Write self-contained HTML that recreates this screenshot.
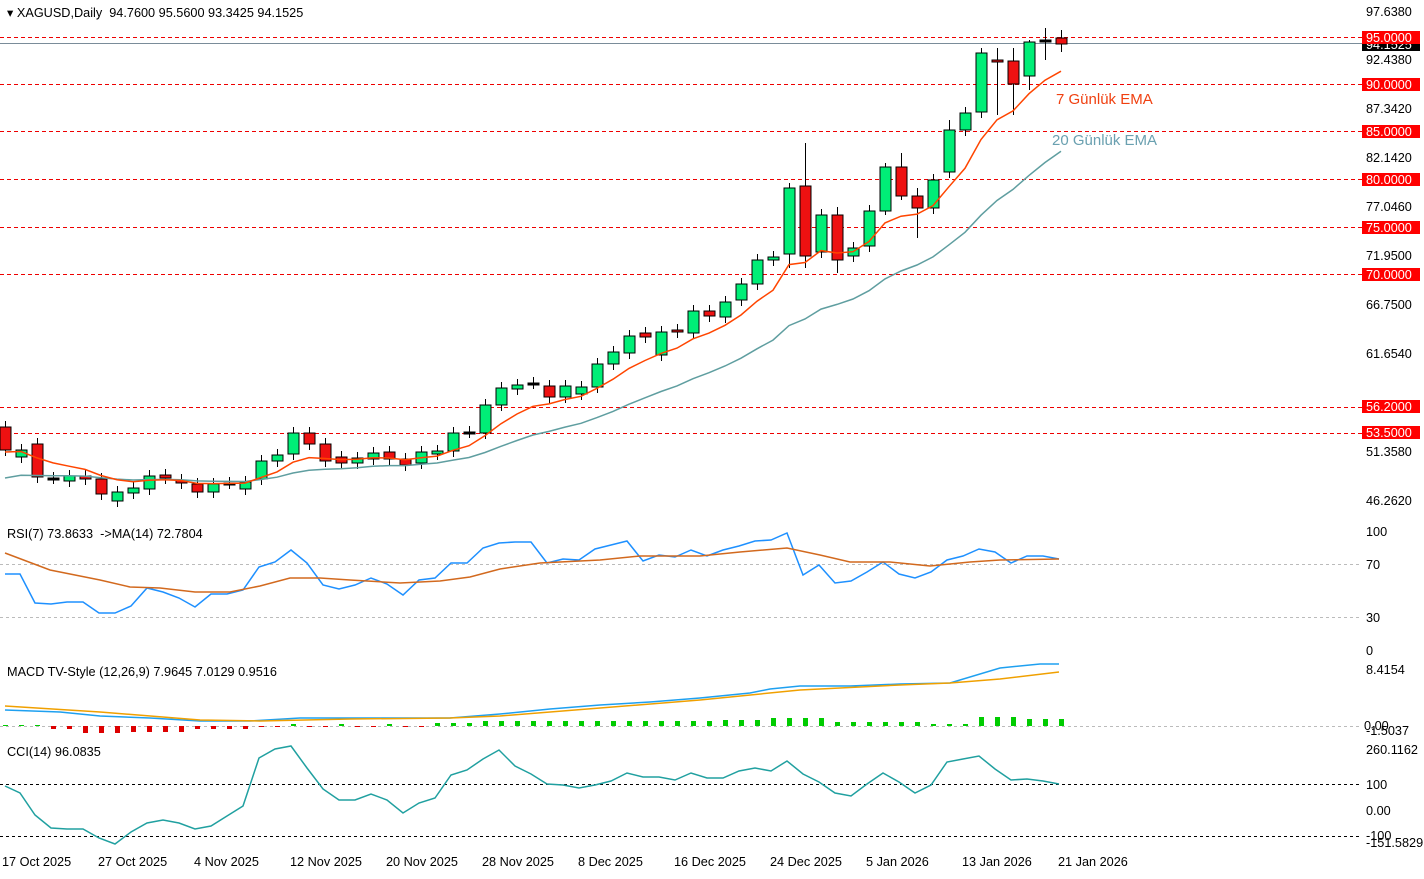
<!DOCTYPE html><html><head><meta charset="utf-8"><style>
body{margin:0;background:#fff;width:1424px;height:874px;overflow:hidden;font-family:"Liberation Sans",sans-serif}
svg text{font-family:"Liberation Sans",sans-serif;font-size:12.7px;fill:#000}
</style></head><body>
<svg id="s" width="1424" height="874" xmlns="http://www.w3.org/2000/svg">
<g stroke="#e00" stroke-dasharray="4,3" stroke-width="1">
<line x1="0" y1="37.5" x2="1362" y2="37.5"/><line x1="0" y1="84.5" x2="1362" y2="84.5"/>
<line x1="0" y1="131.5" x2="1362" y2="131.5"/><line x1="0" y1="179.5" x2="1362" y2="179.5"/>
<line x1="0" y1="227.5" x2="1362" y2="227.5"/><line x1="0" y1="274.5" x2="1362" y2="274.5"/>
<line x1="0" y1="407.5" x2="1362" y2="407.5"/><line x1="0" y1="433.5" x2="1362" y2="433.5"/>
</g>
<line x1="0" y1="43.5" x2="1362" y2="43.5" stroke="#7a8c99"/>
<g id="c"></g>
<text x="7" y="17">▾ XAGUSD,Daily&#160; 94.7600 95.5600 93.3425 94.1525</text>
<text x="1056" y="104" style="fill:#f04010;font-size:15px">7 Günlük EMA</text>
<text x="1052" y="145" style="fill:#6aa0b0;font-size:15px">20 Günlük EMA</text>
<g>
<text x="1366" y="16">97.6380</text><text x="1366" y="64">92.4380</text><text x="1366" y="113">87.3420</text>
<text x="1366" y="162">82.1420</text><text x="1366" y="211">77.0460</text><text x="1366" y="260">71.9500</text>
<text x="1366" y="309">66.7500</text><text x="1366" y="358">61.6540</text><text x="1366" y="456">51.3580</text><text x="1366" y="505">46.2620</text>
<rect x="1362" y="38" width="58" height="13" fill="#000"/><text x="1366" y="49" style="fill:#fff">94.1525</text>
<rect x="1362" y="31" width="58" height="13" fill="#f00"/><text x="1366" y="42" style="fill:#fff">95.0000</text>
<rect x="1362" y="78" width="58" height="13" fill="#f00"/><text x="1366" y="89" style="fill:#fff">90.0000</text>
<rect x="1362" y="125" width="58" height="13" fill="#f00"/><text x="1366" y="136" style="fill:#fff">85.0000</text>
<rect x="1362" y="173" width="58" height="13" fill="#f00"/><text x="1366" y="184" style="fill:#fff">80.0000</text>
<rect x="1362" y="221" width="58" height="13" fill="#f00"/><text x="1366" y="232" style="fill:#fff">75.0000</text>
<rect x="1362" y="268" width="58" height="13" fill="#f00"/><text x="1366" y="279" style="fill:#fff">70.0000</text>
<rect x="1362" y="400" width="58" height="13" fill="#f00"/><text x="1366" y="411" style="fill:#fff">56.2000</text>
<rect x="1362" y="426" width="58" height="13" fill="#f00"/><text x="1366" y="437" style="fill:#fff">53.5000</text>
</g>
<!-- RSI -->
<line x1="0" y1="564.5" x2="1362" y2="564.5" stroke="#bbb" stroke-dasharray="3,3"/>
<line x1="0" y1="617.5" x2="1362" y2="617.5" stroke="#bbb" stroke-dasharray="3,3"/>
<text x="7" y="538">RSI(7) 73.8633&#160; -&gt;MA(14) 72.7804</text>
<text x="1366" y="536">100</text><text x="1366" y="569">70</text><text x="1366" y="622">30</text><text x="1366" y="655">0</text>
<polyline fill="none" stroke="#1e90ff" stroke-width="1.5" points="5,574 20,574 35,603 51,604 67,602 83,602 99,613 115,613 131,606 147,588 163,592 179,598 195,607 211,594 227,594 243,590 259,567 275,562 291,550 307,563 323,585 339,589 355,585 371,578 387,584 403,595 419,580 435,578 451,563 467,563 483,548 499,543 515,542 531,542 547,563 563,559 579,560 595,549 611,545 627,541 643,561 659,555 675,557 691,550 707,556 723,550 739,546 755,541 771,540 787,533 803,575 819,565 835,583 851,581 867,572 883,562 899,574 915,578 931,572 947,560 963,556 979,549 995,552 1011,563 1027,556 1043,556 1059,559"/>
<polyline fill="none" stroke="#d2691e" stroke-width="1.5" points="5,553 50,570 100,580 130,587 160,588 195,592 230,592 260,586 290,578 320,578 350,580 400,583 440,581 470,577 500,569 540,563 600,560 640,556 700,556 740,552 787,548 820,555 850,562 890,562 930,566 970,562 1000,560 1059,559"/>
<!-- MACD -->
<text x="7" y="676">MACD TV-Style (12,26,9) 7.9645 7.0129 0.9516</text>
<text x="1366" y="674">8.4154</text><text x="1364" y="730">0.00</text><text x="1366" y="735">-1.5037</text>
<line x1="0" y1="726.5" x2="1362" y2="726.5" stroke="#bbb" stroke-dasharray="3,3"/>
<g id="h"></g>
<polyline fill="none" stroke="#1ea0f0" stroke-width="1.5" points="5,710 60,712 100,716 150,718 200,721 250,721 300,718 350,718 450,718 500,714 550,709 600,705 650,702 700,698 750,693 770,689 800,686 850,686 900,684 950,683 1000,668 1040,664 1059,664"/>
<polyline fill="none" stroke="#f0a000" stroke-width="1.5" points="5,706 100,712 200,720 260,721 350,719 450,718 500,716 600,708 700,700 800,690 900,685 950,683 1000,679 1059,672"/>
<!-- CCI -->
<text x="7" y="756">CCI(14) 96.0835</text>
<text x="1366" y="754">260.1162</text><text x="1366" y="789">100</text><text x="1366" y="815">0.00</text><text x="1366" y="840">-100</text><text x="1366" y="847">-151.5829</text>
<line x1="0" y1="784.5" x2="1362" y2="784.5" stroke="#000" stroke-dasharray="3,3"/>
<line x1="0" y1="836.5" x2="1362" y2="836.5" stroke="#000" stroke-dasharray="3,3"/>
<polyline fill="none" stroke="#20a0a0" stroke-width="1.5" points="5,786 20,793 35,815 51,828 67,829 83,829 99,838 115,844 131,832 147,823 163,820 179,823 195,829 211,826 227,816 243,806 259,758 275,749 291,746 307,768 323,789 339,800 355,800 371,794 387,800 403,813 419,803 435,798 451,775 467,770 483,759 499,750 515,766 531,774 547,784 563,785 579,788 595,785 611,781 627,773 643,777 659,777 675,780 691,773 707,778 723,778 739,771 755,768 771,771 787,761 803,774 819,782 835,793 851,796 867,784 883,773 899,782 915,793 931,785 947,762 963,759 979,756 995,769 1011,780 1027,779 1043,781 1059,784"/>
<g>
<text x="2" y="866">17 Oct 2025</text><text x="98" y="866">27 Oct 2025</text><text x="194" y="866">4 Nov 2025</text>
<text x="290" y="866">12 Nov 2025</text><text x="386" y="866">20 Nov 2025</text><text x="482" y="866">28 Nov 2025</text>
<text x="578" y="866">8 Dec 2025</text><text x="674" y="866">16 Dec 2025</text><text x="770" y="866">24 Dec 2025</text>
<text x="866" y="866">5 Jan 2026</text><text x="962" y="866">13 Jan 2026</text><text x="1058" y="866">21 Jan 2026</text>
</g>
</svg>
<script>
var D=[["r",427,450],["g",450,457],["r",444,477],["n",478,478],["g",476,481],["r",476,479],["r",479,494],["g",492,501],["g",488,493],["g",476,489],["r",475,478],["r",480,483],["r",484,492],["g",484,492],["n",483,483],["g",482,489],["g",461,479],["g",455,461],["g",433,454],["r",433,444],["r",444,461],["r",457,463],["g",458,463],["g",453,459],["r",452,459],["r",459,465],["g",452,463],["g",451,454],["g",433,451],["n",432,432],["g",405,433],["g",388,405],["g",385,389],["n",383,383],["r",386,397],["g",386,397],["g",387,394],["g",364,387],["g",352,364],["g",336,353],["r",333,337],["g",332,355],["r",330,332],["g",311,333],["r",311,316],["g",302,317],["g",284,300],["g",260,284],["g",257,260],["g",188,254],["r",186,256],["g",215,252],["r",215,260],["g",248,256],["g",211,246],["g",167,211],["r",167,196],["r",196,208],["g",180,208],["g",130,172],["g",113,130],["g",53,112],["r",60,61],["r",61,84],["g",42,76],["n",40,40],["r",38,44]];
var W={49:[183,268],50:[143,268],52:[207,273],57:[188,238],59:[120,178],61:[48,118],62:[48,115],63:[48,115],64:[40,90],65:[28,60],66:[30,52],55:[163,215],56:[153,200]};
var s="",cl=[];
D.forEach(function(d,i){var x=5+i*16;var t=d[1],b=d[2];var w=W[i]||[t-6,b+6];
s+='<line x1="'+(x+.5)+'" y1="'+w[0]+'" x2="'+(x+.5)+'" y2="'+w[1]+'" stroke="#000"/>';
var f=d[0]=="g"?"#00ee77":d[0]=="r"?"#ee1111":"#000";
s+='<rect x="'+(x-5)+'" y="'+t+'" width="11" height="'+Math.max(b-t,2)+'" fill="'+f+'" stroke="#000"/>';
cl.push(d[0]=="r"?b:t);});
function ema(n,col,e0){var k=2/(n+1),e=e0,p=[];cl.forEach(function(c,i){e=i?e+k*(c-e):e;p.push((5+i*16)+","+e.toFixed(1));});
return '<polyline fill="none" stroke="'+col+'" stroke-width="1.5" points="'+p.join(" ")+'"/>';}
s+=ema(20,"#5f9ea0",478)+ema(7,"#ff4500",452);
document.getElementById("c").innerHTML=s;
var h="";for(var i=0;i<67;i++){var x=5+i*16,v;
if(i<3)v=1;else if(i<16)v=-(i<5?3:i<8?7:i<12?6:3);else if(i<27)v=(i%3==0?2:-1);else v=(i<30?3:i<45?5:i<48?6:i<52?8:i<58?4:i<61?2:i<64?9:7);
if(v>0)h+='<rect x="'+(x-2)+'" y="'+(726-v)+'" width="5" height="'+v+'" fill="#00cc00"/>';else h+='<rect x="'+(x-2)+'" y="726" width="5" height="'+(-v)+'" fill="#dd0000"/>';}
document.getElementById("h").innerHTML=h;
</script>
</body></html>
